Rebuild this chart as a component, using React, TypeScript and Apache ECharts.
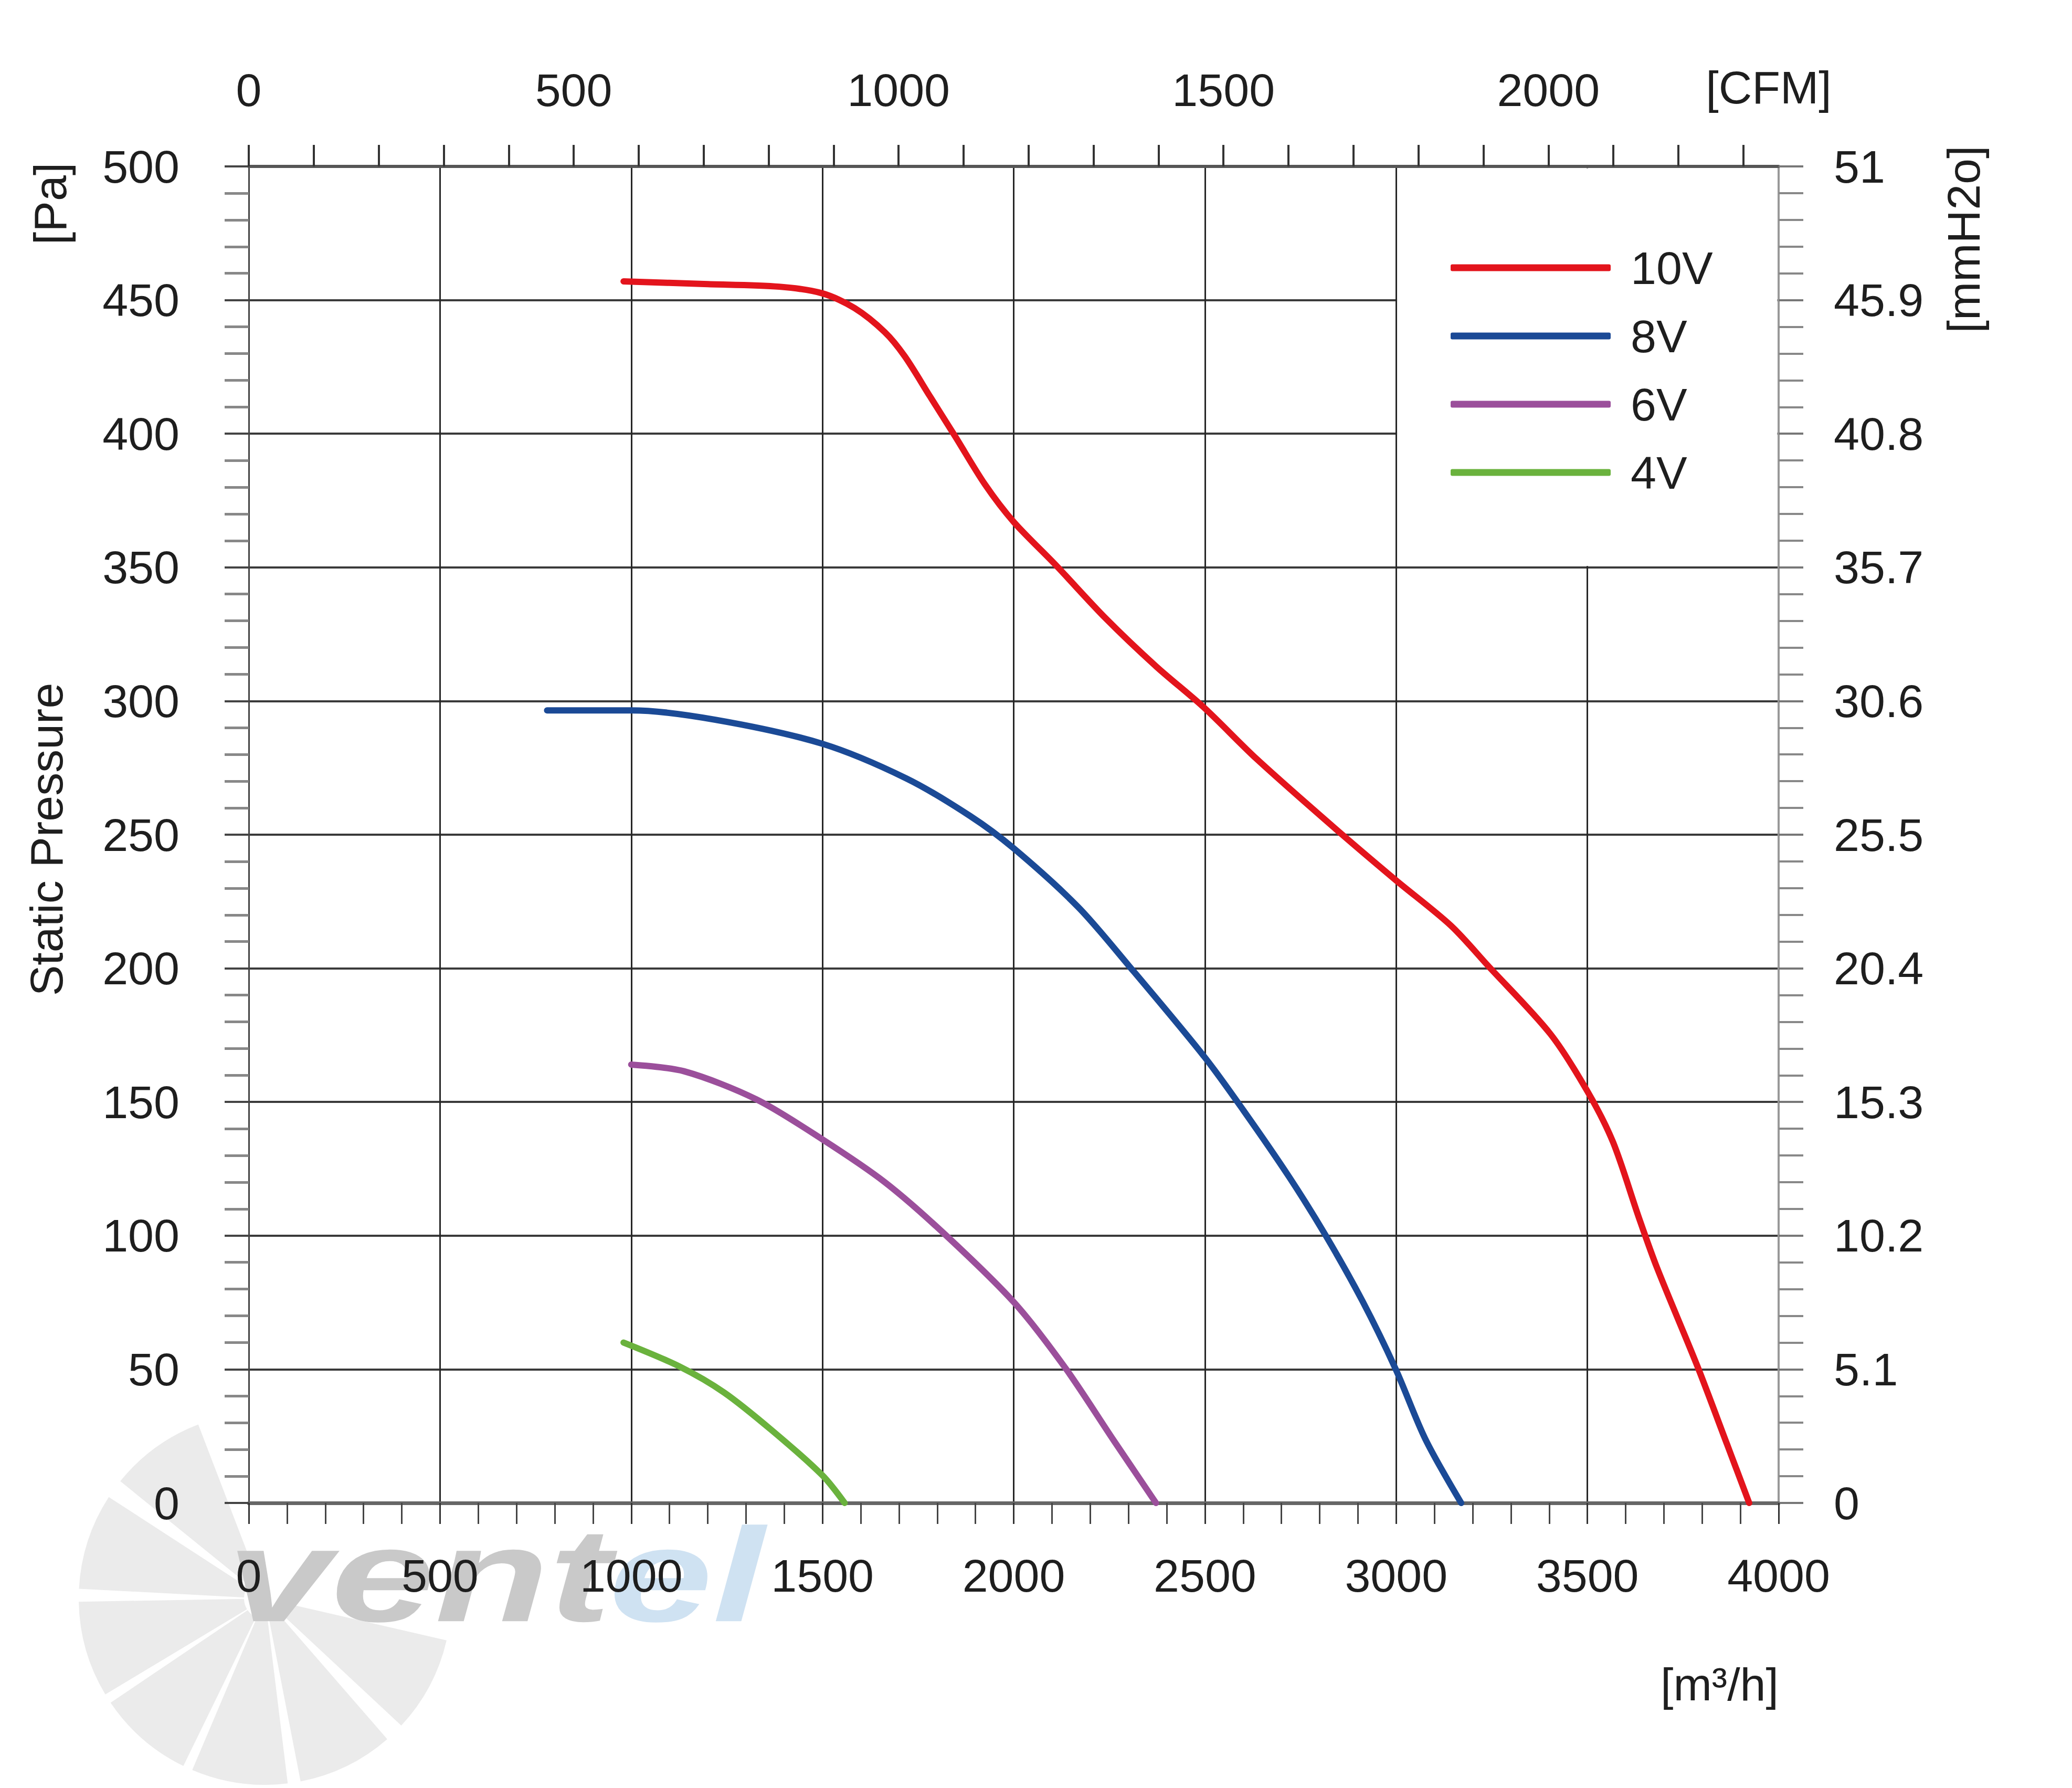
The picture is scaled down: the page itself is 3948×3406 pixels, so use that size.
import React, { useEffect, useRef } from 'react';
import * as echarts from 'echarts';

const FONT = '"Liberation Sans", Arial, Helvetica, sans-serif';

// ---- data ----
const seriesNames = ['10V', '8V', '6V', '4V'];
const seriesColors = ['#E3141C', '#1B4A96', '#9B4F9B', '#6AB23D'];

const flow10V = [980, 1190, 1387, 1500, 1584, 1663, 1715, 1781, 1847, 1925, 2000, 2109, 2240, 2372, 2498, 2634, 2835, 2999, 3143, 3240, 3403, 3500, 3567, 3634, 3682, 3788, 3865, 3923];
const pressure10V = [457, 456, 455, 452.5, 447, 438, 429, 414, 399, 381, 367, 351, 331, 313, 297.5, 278.5, 253, 233, 216, 201, 175.5, 154, 135, 107, 88, 51, 22, 0];

const flow8V = [780, 1001, 1220, 1500, 1720, 1886, 1999, 2168, 2301, 2498, 2600, 2720, 2816, 2912, 2999, 3076, 3170];
const pressure8V = [296.5, 296.5, 293, 284, 271, 257, 245, 223, 201, 167, 147, 122, 100, 75.5, 50, 24, 0];

const flow6V = [1000, 1138, 1327, 1500, 1663, 1820, 2001, 2135, 2261, 2372];
const pressure6V = [164, 161.5, 151, 136, 120, 100.5, 75, 50.5, 23.5, 0];

const flow4V = [980, 1127, 1243, 1369, 1500, 1558];
const pressure4V = [60, 51, 41.3, 27, 10.3, 0];

const flows = [flow10V, flow8V, flow6V, flow4V];
const pressures = [pressure10V, pressure8V, pressure6V, pressure4V];

// axes
const flowMin = 0;
const flowMax = 4000;
const flowInterval = 500;
const paMin = 0;
const paMax = 500;
const paInterval = 50;
const M3H_PER_CFM = 1.699;
const cfmLabelValues = [0, 500, 1000, 1500, 2000];
const cfmTickValues = [0, 100, 200, 300, 400, 500, 600, 700, 800, 900, 1000, 1100, 1200, 1300, 1400, 1500, 1600, 1700, 1800, 1900, 2000, 2100, 2200, 2300];

// legend panel region (data space) that hides the grid behind the legend
const legendPanelFrom = [3002.5, 350.5];
const legendPanelTo = [3996.5, 499.3];

const fmtMmH2O = (v: number) => String(Math.round(v * 1.02) / 10);

export default function App() {
  const ref = useRef<HTMLDivElement>(null);

  useEffect(() => {
    if (!ref.current) return;
    const chart = echarts.init(ref.current, undefined, { renderer: 'svg' });

    const labelStyle = { fontSize: 88, fontFamily: FONT, color: '#1e1e1e' };

    const series: any[] = seriesNames.map((name, i) => ({
      name,
      type: 'line',
      xAxisIndex: 0,
      yAxisIndex: 0,
      data: flows[i].map((q, k) => [q, pressures[i][k]]),
      smooth: 0.3,
      showSymbol: false,
      symbol: 'none',
      z: 5,
      itemStyle: { color: seriesColors[i] },
      lineStyle: { color: seriesColors[i], width: 12, cap: 'round', join: 'round' },
      silent: true,
    }));
    series[0].markArea = {
      silent: true,
      z: 3,
      itemStyle: { color: '#ffffff', opacity: 1, borderWidth: 0 },
      data: [[{ coord: legendPanelFrom }, { coord: legendPanelTo }]],
    };

    const wmCx = 505;
    const wmCy = 3045;
    const bladeCenters = [28, 64, 98, 131, 164, 198, 234];
    const blades = bladeCenters.map((c) => ({
      type: 'sector',
      z: -20,
      silent: true,
      shape: {
        cx: wmCx,
        cy: wmCy,
        r0: 40,
        r: 355,
        startAngle: ((c - 15) * Math.PI) / 180,
        endAngle: ((c + 15) * Math.PI) / 180,
      },
      style: { fill: '#ebebeb' },
    }));

    const txt = (text: string, x: number, y: number, rotation: number, align = 'center', extra: any = {}) => ({
      type: 'text',
      x,
      y,
      rotation,
      silent: true,
      style: {
        text,
        fontSize: 88,
        fontFamily: FONT,
        fill: '#1e1e1e',
        align,
        textAlign: align,
        verticalAlign: 'middle',
        textVerticalAlign: 'middle',
        ...extra,
      },
    });

    chart.setOption({
      animation: false,
      backgroundColor: '#ffffff',
      grid: { left: 474, top: 317, width: 2915, height: 2546, containLabel: false },
      legend: {
        orient: 'vertical',
        left: 2759,
        top: 460,
        itemWidth: 305,
        itemHeight: 13,
        itemGap: 40,
        icon: 'roundRect',
        selectedMode: false,
        data: seriesNames,
        textStyle: { fontSize: 88, lineHeight: 90, fontFamily: FONT, color: '#1e1e1e', padding: [0, 0, 0, 33] },
      },
      xAxis: [
        {
          type: 'value',
          position: 'bottom',
          min: flowMin,
          max: flowMax,
          interval: flowInterval,
          axisLine: { show: true, onZero: false, lineStyle: { color: '#666', width: 7 } },
          axisTick: { show: true, inside: false, length: 40, lineStyle: { color: '#333', width: 3 } },
          minorTick: { show: true, splitNumber: 5, length: 40, lineStyle: { color: '#444', width: 3 } },
          axisLabel: { ...labelStyle, margin: 94, formatter: (v: number) => String(v) },
          splitLine: { show: true, lineStyle: { color: '#262626', width: 3 } },
        },
        {
          type: 'value',
          position: 'top',
          min: 0,
          max: flowMax / M3H_PER_CFM,
          interval: 100,
          axisLine: { show: true, onZero: false, lineStyle: { color: '#555', width: 6 } },
          axisTick: { show: true, inside: false, length: 41, customValues: cfmTickValues, lineStyle: { color: '#333', width: 4 } },
          axisLabel: {
            ...labelStyle,
            margin: 102,
            customValues: cfmLabelValues,
            formatter: (v: number) => (Math.abs(v % 500) < 1e-6 ? String(v) : ''),
          },
          splitLine: { show: false },
        },
      ],
      yAxis: [
        {
          type: 'value',
          position: 'left',
          min: paMin,
          max: paMax,
          interval: paInterval,
          axisLine: { show: true, onZero: false, lineStyle: { color: '#444', width: 3 } },
          axisTick: { show: true, inside: false, length: 46, lineStyle: { color: '#444', width: 4 } },
          minorTick: { show: true, splitNumber: 5, length: 46, lineStyle: { color: '#888', width: 5 } },
          axisLabel: { ...labelStyle, margin: 132, formatter: (v: number) => String(v) },
          splitLine: { show: true, lineStyle: { color: '#3a3a3a', width: 4 } },
        },
        {
          type: 'value',
          position: 'right',
          min: paMin,
          max: paMax,
          interval: paInterval,
          axisLine: { show: true, onZero: false, lineStyle: { color: '#999', width: 4 } },
          axisTick: { show: true, inside: false, length: 47, lineStyle: { color: '#777', width: 4 } },
          minorTick: { show: true, splitNumber: 5, length: 47, lineStyle: { color: '#888', width: 4 } },
          axisLabel: { ...labelStyle, margin: 105, formatter: fmtMmH2O },
          splitLine: { show: false },
        },
      ],
      graphic: [
        ...blades,
        {
          type: 'text',
          x: 433,
          y: 3000,
          scaleX: 1.4,
          z: -15,
          silent: true,
          style: {
            text: 'vent',
            fontSize: 254,
            fontWeight: 'bold',
            fontStyle: 'italic',
            fontFamily: FONT,
            fill: '#c9c9c9',
            verticalAlign: 'middle',
            textVerticalAlign: 'middle',
          },
        },
        {
          type: 'text',
          x: 1160,
          y: 3000,
          scaleX: 1.4,
          z: -15,
          silent: true,
          style: {
            text: 'el',
            fontSize: 254,
            fontWeight: 'bold',
            fontStyle: 'italic',
            fontFamily: FONT,
            fill: '#cfe2f2',
            verticalAlign: 'middle',
            textVerticalAlign: 'middle',
          },
        },
        txt('[Pa]', 95, 388, Math.PI / 2),
        txt('Static Pressure', 88, 1599, Math.PI / 2),
        txt('[mmH2o]', 3741, 456, Math.PI / 2),
        txt('[CFM]', 3370, 166, 0),
        txt('[m³/h]', 3389, 3208, 0, 'right'),
      ],
      series,
    });

    return () => chart.dispose();
  }, []);

  return (
    <div
      ref={ref}
      style={{ position: 'absolute', left: 0, top: 0, width: 3948, height: 3406, background: '#ffffff' }}
    />
  );
}
